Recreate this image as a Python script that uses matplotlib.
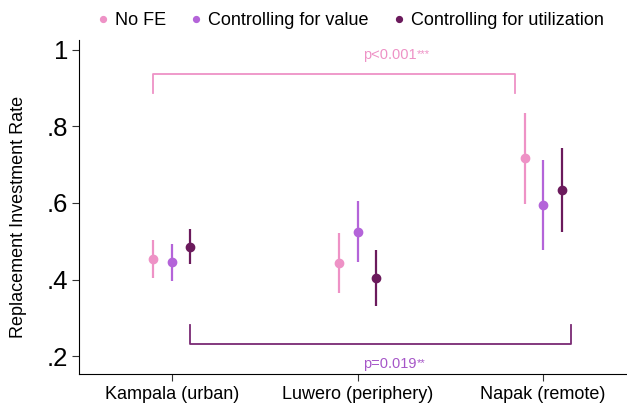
import numpy as np
import matplotlib.pyplot as plt

plt.rcParams['font.family'] = ['Liberation Sans', 'DejaVu Sans']

# Point estimates and 95% CIs by district
districts = ["Kampala (urban)", "Luwero (periphery)", "Napak (remote)"]
series = ["No FE", "Controlling for value", "Controlling for utilization"]

est_nofe = [0.454, 0.442, 0.717]
lo_nofe = [0.405, 0.364, 0.597]
hi_nofe = [0.503, 0.521, 0.836]

est_value = [0.445, 0.525, 0.595]
lo_value = [0.397, 0.447, 0.477]
hi_value = [0.493, 0.605, 0.712]

est_util = [0.486, 0.404, 0.634]
lo_util = [0.440, 0.332, 0.523]
hi_util = [0.531, 0.477, 0.745]

p_top = "p<0.001"
p_bottom = "p=0.019"

colors = ["#EE92C6", "#B464D9", "#6B1A5C"]
offsets = [-0.1, 0.0, 0.1]

fig = plt.figure(figsize=(6.27, 4.07), dpi=100)
# axes spans past the right edge so the x axis runs off the figure
ax = fig.add_axes([79 / 627, 33 / 407, (636 - 79) / 627, 334 / 407])

x = np.arange(1, len(districts) + 1)
data = [(est_nofe, lo_nofe, hi_nofe), (est_value, lo_value, hi_value), (est_util, lo_util, hi_util)]
for (est, lo, hi), off, c, name in zip(data, offsets, colors, series):
    xs = x + off
    ax.vlines(xs, lo, hi, color=c, lw=1.6)
    ax.plot(xs, est, 'o', color=c, ms=6, label=name)


def p_label(xpos, ypos, txt, stars, color):
    t = ax.text(xpos, ypos, txt, color=color, fontsize=10.5, ha='left', va='center')
    ax.annotate(stars, xy=(1.0, 0.95), xycoords=t, color=color, fontsize=8,
                ha='left', va='top')


# significance brackets
ax.plot([1 + offsets[0], 1 + offsets[0], 3 - 0.15, 3 - 0.15], [0.888, 0.937, 0.937, 0.888],
        color=colors[0], lw=1.3)
p_label(1.0 + (363 - 172) / 185.5, 0.987, p_top, "***", colors[0])

ax.plot([1 + offsets[2], 1 + offsets[2], 3.15, 3.15], [0.280, 0.231, 0.231, 0.280],
        color="#7A2A74", lw=1.3)
p_label(1.0 + (363 - 172) / 185.5, 0.179, p_bottom, "**", "#A656C8")

ax.set_xlim(0.5, 3.5)
ax.set_ylim(0.153, 1.026)
ax.set_xticks(x)
ax.set_xticklabels(districts, fontsize=13)
ax.set_yticks([0.2, 0.4, 0.6, 0.8, 1.0])
ax.set_yticklabels([".2", ".4", ".6", ".8", "1"], fontsize=18.5)
ax.set_ylabel("Replacement Investment Rate", fontsize=13)
ax.yaxis.set_label_coords(-0.093, 0.47)

ax.spines['top'].set_visible(False)
ax.spines['right'].set_visible(False)
ax.tick_params(axis='both', length=5, width=0.8, color='#333333')
ax.tick_params(axis='y', pad=3)

fig.legend(loc='upper center', bbox_to_anchor=(0.558, 1.01), ncol=3, frameon=False,
           fontsize=13, handlelength=0.8, handletextpad=0.25, columnspacing=1.28,
           markerscale=0.7)

fig.savefig("out.png", dpi=100)
